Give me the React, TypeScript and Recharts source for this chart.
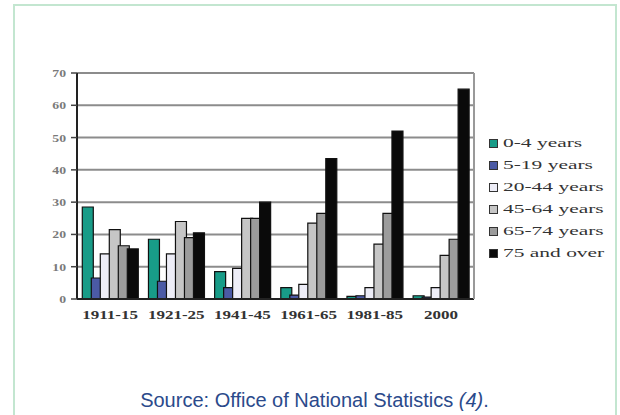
import React from "react";
import { BarChart, Bar, XAxis, YAxis, CartesianGrid } from "recharts";

const periods = ["1911-15", "1921-25", "1941-45", "1961-65", "1981-85", "2000"];
const age0to4 = [28.5, 18.5, 8.5, 3.5, 0.8, 1];
const age5to19 = [6.5, 5.5, 3.5, 1.2, 1, 0.6];
const age20to44 = [14, 14, 9.5, 4.5, 3.5, 3.5];
const age45to64 = [21.5, 24, 25, 23.5, 17, 13.5];
const age65to74 = [16.5, 19, 25, 26.5, 26.5, 18.5];
const age75plus = [15.5, 20.5, 30, 43.5, 52, 65];
const yTicks = [0, 10, 20, 30, 40, 50, 60, 70];

const seriesNames = ["0-4 years", "5-19 years", "20-44 years", "45-64 years", "65-74 years", "75 and over"];
const seriesKeys = ["a", "b", "c", "d", "e", "f"];
const seriesColors = ["#189c88", "#4b5aa5", "#ededf7", "#c6c6c6", "#9c9c9c", "#0a0a0a"];
const seriesValues = [age0to4, age5to19, age20to44, age45to64, age65to74, age75plus];

const data = periods.map((p, i) => {
  const row: any = { period: p };
  seriesKeys.forEach((k, j) => {
    row[k] = seriesValues[j][i];
  });
  return row;
});

const SERIF = "'Times New Roman', 'Liberation Serif', Times, serif";

const XTick = (props: any) => {
  const { x, y, payload } = props;
  return (
    <g transform={`translate(${x},${y})`}>
      <text
        transform="scale(1.42,1)"
        textAnchor="middle"
        dy={12}
        fontFamily={SERIF}
        fontWeight="bold"
        fontSize={12}
        fill="#333"
      >
        {payload.value}
      </text>
    </g>
  );
};

const YTick = (props: any) => {
  const { x, y, payload } = props;
  return (
    <g transform={`translate(${x},${y})`}>
      <text
        transform="scale(1.25,1)"
        textAnchor="end"
        dy={4}
        fontFamily={SERIF}
        fontWeight="bold"
        fontSize={11}
        fill="#7a7a7a"
      >
        {payload.value}
      </text>
    </g>
  );
};

export default function App() {
  return (
    <div
      style={{
        position: "absolute",
        left: 0,
        top: 0,
        width: 620,
        height: 415,
        overflow: "hidden",
        background: "#ffffff",
      }}
    >
      <div
        style={{
          position: "absolute",
          left: 13,
          top: 4,
          width: 604,
          height: 460,
          boxSizing: "border-box",
          border: "2px solid #c3e6d0",
        }}
      />
      <div style={{ position: "absolute", left: 0, top: 0 }}>
        <BarChart
          width={620}
          height={415}
          data={data}
          margin={{ top: 73, right: 145, bottom: 86, left: 47 }}
          barCategoryGap="8%"
          barGap={-2}
        >
          <CartesianGrid yAxisId={0} vertical={false} stroke="#8c8c8c" strokeWidth={2} />
          <XAxis
            dataKey="period"
            height={30}
            tick={<XTick />}
            tickLine={false}
            axisLine={{ stroke: "#222", strokeWidth: 2 }}
            interval={0}
          />
          <YAxis
            yAxisId={0}
            width={30}
            domain={[0, 70]}
            ticks={yTicks}
            tick={<YTick />}
            tickSize={6}
            tickMargin={5}
            tickLine={{ stroke: "#444", strokeWidth: 1.5 }}
            axisLine={{ stroke: "#222", strokeWidth: 2 }}
          />
          <YAxis
            yAxisId="r"
            orientation="right"
            width={1}
            domain={[0, 70]}
            ticks={yTicks}
            tick={false}
            tickLine={false}
            axisLine={{ stroke: "#999", strokeWidth: 2 }}
          />
          {seriesKeys.map((k, j) => (
            <Bar
              key={k}
              yAxisId={0}
              dataKey={k}
              name={seriesNames[j]}
              fill={seriesColors[j]}
              stroke="#111"
              strokeWidth={1.2}
              isAnimationActive={false}
            />
          ))}
        </BarChart>
      </div>
      <div
        style={{
          position: "absolute",
          left: 489,
          top: 132,
          fontFamily: SERIF,
          fontSize: 13,
          color: "#333",
        }}
      >
        {seriesNames.map((n, j) => (
          <div
            key={n}
            style={{ height: 22, display: "flex", alignItems: "center", whiteSpace: "nowrap" }}
          >
            <span
              style={{
                display: "inline-block",
                width: 7,
                height: 7,
                background: seriesColors[j],
                border: "1px solid #333",
                marginRight: 5,
              }}
            />
            <span style={{ display: "inline-block", transform: "scaleX(1.65)", transformOrigin: "left center" }}>
              {n}
            </span>
          </div>
        ))}
      </div>
      <div
        style={{
          position: "absolute",
          left: 0,
          width: 629,
          top: 389,
          textAlign: "center",
          fontFamily: "'Liberation Sans', Arial, sans-serif",
          fontSize: 20,
          color: "#2b4a8b",
          whiteSpace: "nowrap",
        }}
      >
        Source: Office of National Statistics <i>(4)</i>.
      </div>
    </div>
  );
}
